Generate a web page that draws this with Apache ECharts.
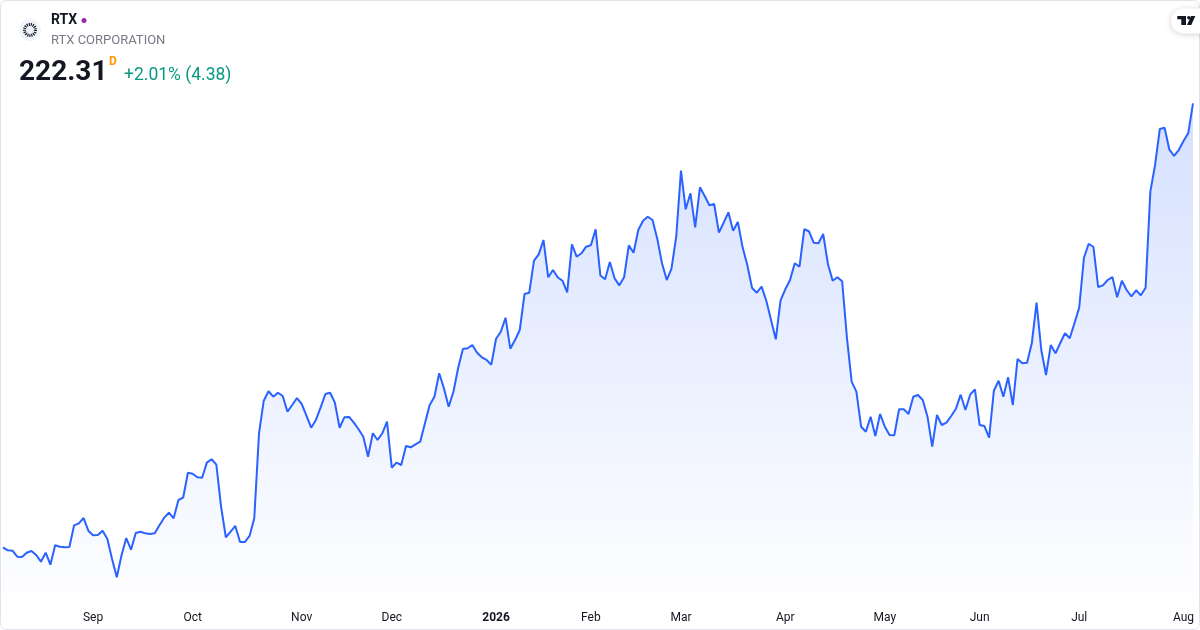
<!DOCTYPE html>
<html>
<head>
<meta charset="utf-8">
<script src="https://cdn.jsdelivr.net/npm/echarts@6/dist/echarts.min.js"></script>
<style>
html,body{margin:0;padding:0;background:#fff;}
#chart{width:1200px;height:630px;}
</style>
</head>
<body>
<div id="chart"></div>
<script>
// ---- data ----
const symbol = 'RTX';
const companyName = 'RTX CORPORATION';
const lastPrice = '222.31';
const changeText = '+2.01% (4.38)';
const startDate = '2025-08-05';
const endDate = '2026-08-05';
const holidays = ['2025-09-01','2025-11-27','2025-12-25','2026-01-01','2026-01-19',
  '2026-02-16','2026-04-03','2026-05-25','2026-06-19','2026-07-03'];
const monthNames = ['Jan','Feb','Mar','Apr','May','Jun','Jul','Aug','Sep','Oct','Nov','Dec'];

// daily closes
const prices = [
157.01,156.57,156.51,155.63,155.59,156.22,156.47,155.88,154.90,156.22,
154.46,157.31,157.10,157.01,157.06,160.25,160.54,161.32,159.46,158.78,
158.82,159.46,158.28,155.29,152.60,155.84,158.38,156.66,159.12,159.31,
159.07,158.97,159.07,160.25,161.37,162.10,161.28,163.97,164.31,167.98,
167.84,167.31,167.25,169.46,169.96,169.16,162.99,158.49,159.31,160.15,
157.79,157.79,158.68,161.28,173.78,178.57,179.96,179.16,179.75,179.26,
176.96,177.94,178.97,178.09,176.37,174.60,175.74,177.60,179.56,179.75,
178.28,174.60,176.13,176.18,175.34,174.37,173.28,170.34,173.78,172.79,
173.78,175.49,168.72,169.46,169.12,171.91,171.72,172.16,172.54,175.25,
177.94,179.16,182.60,180.40,177.69,179.85,183.38,186.18,186.28,186.76,
185.63,184.96,184.56,183.87,187.69,188.72,190.78,186.22,187.50,188.97,
194.26,194.46,199.16,200.10,202.21,196.72,197.79,196.72,196.22,194.51,
201.57,199.75,200.25,201.22,201.43,203.78,196.99,196.43,198.97,196.57,
195.54,196.72,201.43,200.34,203.68,205.04,205.63,205.15,202.40,198.78,
196.32,197.99,202.69,212.40,206.72,209.07,204.07,209.96,208.68,207.31,
207.50,203.28,204.75,206.28,203.57,204.85,201.13,198.49,195.15,194.46,
195.34,193.28,190.44,187.60,193.28,194.96,196.32,198.78,198.28,203.78,
203.49,201.81,201.72,203.09,198.68,196.22,196.72,196.13,187.90,181.37,
179.90,174.75,174.01,176.22,173.38,176.62,174.75,173.53,173.49,177.31,
177.31,176.62,179.16,179.41,178.68,176.22,171.81,176.47,175.00,175.34,
176.32,177.40,179.46,177.21,179.46,180.25,175.00,174.85,173.13,180.04,
181.51,179.16,182.01,177.94,184.71,184.07,184.16,187.01,192.99,186.03,
182.35,186.76,185.54,187.06,188.49,187.75,189.96,192.28,199.60,201.66,
201.18,195.29,195.54,196.32,196.76,193.78,196.22,194.85,193.93,194.81,
194.07,195.19,209.31,213.24,218.53,218.72,215.54,214.56,215.44,216.77,
217.93,222.31
];

// ---- trading-day categories ----
const holidaySet = new Set(holidays);
const categories = [];
(function () {
  const d = new Date(startDate + 'T00:00:00Z');
  const end = new Date(endDate + 'T00:00:00Z');
  while (d <= end) {
    const iso = d.toISOString().slice(0, 10);
    const wd = d.getUTCDay();
    if (wd !== 0 && wd !== 6 && !holidaySet.has(iso)) categories.push(iso);
    d.setUTCDate(d.getUTCDate() + 1);
  }
})();

// tick labels at first trading day of each month
const tickLabels = {};
for (let i = 1; i < categories.length; i++) {
  if (categories[i].slice(5, 7) !== categories[i - 1].slice(5, 7)) {
    const m = parseInt(categories[i].slice(5, 7), 10) - 1;
    tickLabels[i] = m === 0 ? '{y|' + categories[i].slice(0, 4) + '}' : monthNames[m];
  }
}

const FONT = 'Roboto, "Noto Sans", sans-serif';
const chart = echarts.init(document.getElementById('chart'), null, { renderer: 'canvas' });

chart.setOption({
  backgroundColor: '#ffffff',
  animation: false,
  grid: { left: 3, right: 7, top: 51, bottom: 35, containLabel: false },
  xAxis: {
    type: 'category',
    data: categories,
    boundaryGap: false,
    axisLine: { show: false },
    axisTick: { show: false },
    splitLine: { show: false },
    axisLabel: {
      show: true,
      margin: 17,
      color: '#131722',
      fontSize: 12,
      fontFamily: FONT,
      interval: function (index) { return tickLabels[index] !== undefined; },
      formatter: function (value, index) { return tickLabels[index] || ''; },
      rich: { y: { fontWeight: 'bold', fontSize: 12, color: '#131722', fontFamily: FONT } }
    }
  },
  yAxis: {
    type: 'value',
    min: 150,
    max: 230,
    show: false,
    splitLine: { show: false }
  },
  series: [{
    type: 'line',
    data: prices,
    symbol: 'none',
    smooth: false,
    lineStyle: { color: '#2962FF', width: 2 },
    itemStyle: { color: '#2962FF' },
    areaStyle: {
      origin: 'start',
      color: new echarts.graphic.LinearGradient(0, 0, 0, 1, [
        { offset: 0, color: 'rgba(41,98,255,0.28)' },
        { offset: 1, color: 'rgba(41,98,255,0.01)' }
      ])
    }
  }],
  graphic: [
    { type: 'rect', shape: { x: 0.5, y: 0.5, width: 1199, height: 629, r: 6 },
      style: { fill: 'none', stroke: '#e0e3eb', lineWidth: 1 }, z: 100 },
    // logo
    { type: 'circle', shape: { cx: 30, cy: 30, r: 11 }, style: { fill: '#f0f3fa' }, z: 100 },
    { type: 'circle', shape: { cx: 30, cy: 30, r: 5.5 },
      style: { fill: 'none', stroke: '#131722', lineWidth: 3, lineDash: [1.1, 0.9] }, z: 101 },
    { type: 'text', x: 51, y: 20.5, z: 100,
      style: { text: symbol, font: 'bold 14px ' + FONT, fill: '#131722',
               textVerticalAlign: 'middle', verticalAlign: 'middle' } },
    { type: 'circle', shape: { cx: 84, cy: 20.5, r: 2.5 }, style: { fill: '#9c27b0' }, z: 100 },
    { type: 'text', x: 51, y: 41, z: 100,
      style: { text: companyName, font: '13px ' + FONT, fill: '#787b86',
               textVerticalAlign: 'middle', verticalAlign: 'middle' } },
    { type: 'text', x: 19, y: 72.5, z: 100,
      style: { text: lastPrice, font: 'bold 28px ' + FONT, fill: '#131722',
               textVerticalAlign: 'middle', verticalAlign: 'middle' } },
    { type: 'text', x: 109, y: 62, z: 100,
      style: { text: 'D', font: 'bold 12px ' + FONT, fill: '#ff9800',
               textVerticalAlign: 'middle', verticalAlign: 'middle' } },
    { type: 'text', x: 124, y: 76, z: 100,
      style: { text: changeText, font: '17.5px ' + FONT, fill: '#089981',
               textVerticalAlign: 'middle', verticalAlign: 'middle' } },
    // TradingView badge
    { type: 'rect', shape: { x: 1171, y: 8.5, width: 44, height: 25, r: 12.5 }, z: 100,
      style: { fill: '#ffffff', shadowBlur: 6, shadowColor: 'rgba(0,0,0,0.18)', shadowOffsetY: 1 } },
    { type: 'rect', shape: { x: 1177.3, y: 16, width: 8.7, height: 3.3 }, style: { fill: '#131722' }, z: 101 },
    { type: 'rect', shape: { x: 1181.3, y: 16, width: 4.7, height: 9 }, style: { fill: '#131722' }, z: 101 },
    { type: 'circle', shape: { cx: 1188.8, cy: 17.7, r: 1.7 }, style: { fill: '#131722' }, z: 101 },
    { type: 'polygon', shape: { points: [[1191, 16], [1195.3, 16], [1191.3, 25], [1187, 25]] },
      style: { fill: '#131722' }, z: 101 }
  ]
});
</script>
</body>
</html>
